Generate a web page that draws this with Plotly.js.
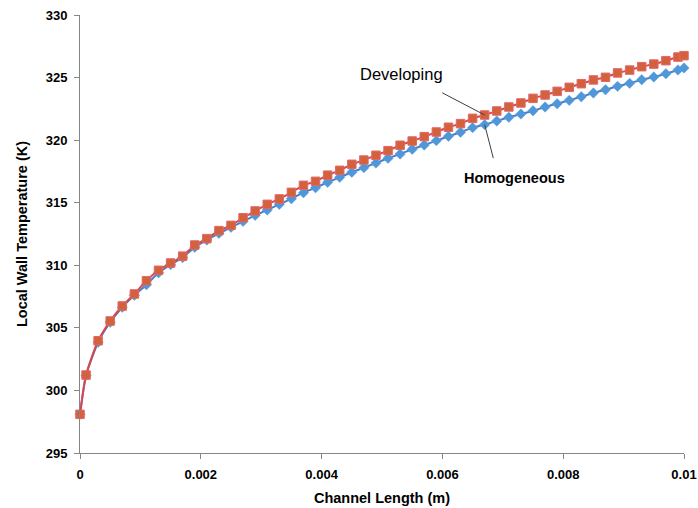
<!DOCTYPE html>
<html>
<head>
<meta charset="utf-8">
<script src="https://cdn.plot.ly/plotly-3.0.1.min.js"></script>
<style>html,body{margin:0;padding:0;background:#fff;}#chart{width:698px;height:508px;}</style>
</head>
<body>
<div id="chart"></div>
<script>
var channelLength = [0, 0.0001, 0.0003, 0.0005, 0.0007, 0.0009, 0.0011, 0.0013, 0.0015, 0.0017,
  0.0019, 0.0021, 0.0023, 0.0025, 0.0027, 0.0029, 0.0031, 0.0033, 0.0035, 0.0037,
  0.0039, 0.0041, 0.0043, 0.0045, 0.0047, 0.0049, 0.0051, 0.0053, 0.0055, 0.0057,
  0.0059, 0.0061, 0.0063, 0.0065, 0.0067, 0.0069, 0.0071, 0.0073, 0.0075, 0.0077,
  0.0079, 0.0081, 0.0083, 0.0085, 0.0087, 0.0089, 0.0091, 0.0093, 0.0095, 0.0097,
  0.0099, 0.01];

var developing = [298.09, 301.23, 303.97, 305.55, 306.75, 307.71, 308.77, 309.6, 310.18, 310.73,
  311.62, 312.13, 312.77, 313.19, 313.8, 314.34, 314.87, 315.30, 315.83, 316.39,
  316.71, 317.2, 317.59, 318.07, 318.41, 318.79, 319.16, 319.59, 319.93, 320.28,
  320.65, 321.03, 321.32, 321.74, 322.01, 322.33, 322.65, 322.97, 323.34, 323.61,
  323.90, 324.22, 324.51, 324.81, 325.02, 325.37, 325.6, 325.87, 326.08, 326.35,
  326.64, 326.75];

var homogeneous = [298.09, 301.2, 303.85, 305.45, 306.65, 307.6, 308.45, 309.4, 310.05, 310.61,
  311.44, 312.02, 312.55, 313.04, 313.51, 313.99, 314.42, 314.87, 315.32, 315.80,
  316.20, 316.63, 317.03, 317.43, 317.80, 318.17, 318.55, 318.89, 319.27, 319.61,
  319.96, 320.31, 320.63, 321.0, 321.24, 321.53, 321.83, 322.09, 322.35, 322.65,
  322.91, 323.18, 323.47, 323.77, 324.03, 324.30, 324.54, 324.83, 325.05, 325.31,
  325.61, 325.77];

var seriesNames = ['Homogeneous', 'Developing'];
var xTickVals = [0, 0.002, 0.004, 0.006, 0.008, 0.01];
var xTickText = ['0', '0.002', '0.004', '0.006', '0.008', '0.01'];
var yTickVals = [295, 300, 305, 310, 315, 320, 325, 330];

var pointIdx = 34; // x = 0.0067, where the callouts point

var font = 'Arial, "Liberation Sans", sans-serif';

var traces = [
  {
    x: channelLength, y: homogeneous, name: seriesNames[0],
    type: 'scatter', mode: 'lines+markers', cliponaxis: false,
    line: {color: '#4A7EC6', width: 2, shape: 'spline', smoothing: 0.6},
    marker: {symbol: 'diamond', size: 8, color: '#4F97D8', line: {color: '#5AA0DC', width: 0.5}}
  },
  {
    x: channelLength, y: developing, name: seriesNames[1],
    type: 'scatter', mode: 'lines+markers', cliponaxis: false,
    line: {color: '#D9464E', width: 2, shape: 'spline', smoothing: 0.6},
    marker: {symbol: 'square', size: 8.5, color: '#D3613B', line: {color: '#E2676A', width: 1}}
  }
];

var layout = {
  width: 698, height: 508,
  margin: {l: 80, r: 14, t: 15, b: 55},
  paper_bgcolor: '#ffffff', plot_bgcolor: '#ffffff',
  showlegend: false,
  font: {family: font, color: '#000000'},
  xaxis: {
    range: [0, 0.01], autorange: false,
    tickvals: xTickVals, ticktext: xTickText,
    ticks: 'outside', ticklen: 5, tickcolor: '#868686', tickwidth: 1,
    showline: true, linecolor: '#868686', linewidth: 1,
    showgrid: false, zeroline: false,
    tickfont: {family: font, size: 13, color: '#000', weight: 'bold'},
    ticklabelstandoff: 4,
    title: {text: 'Channel Length (m)', font: {family: font, size: 14.5, color: '#000', weight: 'bold'}, standoff: 12}
  },
  yaxis: {
    range: [295, 330], autorange: false,
    tickvals: yTickVals,
    ticks: 'outside', ticklen: 5, tickcolor: '#868686', tickwidth: 1,
    showline: true, linecolor: '#868686', linewidth: 1,
    showgrid: false, zeroline: false,
    tickfont: {family: font, size: 13, color: '#000', weight: 'bold'},
    ticklabelstandoff: 4,
    title: {text: 'Local Wall Temperature (K)', font: {family: font, size: 14.5, color: '#000', weight: 'bold'}, standoff: 14}
  },
  annotations: [
    {
      x: channelLength[pointIdx], y: developing[pointIdx], xref: 'x', yref: 'y',
      text: '', showarrow: true, arrowhead: 0, arrowwidth: 1, arrowcolor: '#404040',
      ax: -44, ay: -23
    },
    {
      x: channelLength[pointIdx], y: homogeneous[pointIdx], xref: 'x', yref: 'y',
      text: '', showarrow: true, arrowhead: 0, arrowwidth: 1, arrowcolor: '#404040',
      ax: 9, ay: 35
    },
    {
      x: 0.00532, y: 325.29, xref: 'x', yref: 'y',
      text: seriesNames[1], showarrow: false,
      font: {family: font, size: 16.5, color: '#000'}
    },
    {
      x: 0.00719, y: 316.98, xref: 'x', yref: 'y',
      text: seriesNames[0], showarrow: false,
      font: {family: font, size: 14.5, color: '#000', weight: 'bold'}
    }
  ]
};

Plotly.newPlot('chart', traces, layout, {displayModeBar: false, staticPlot: true});
</script>
</body>
</html>
